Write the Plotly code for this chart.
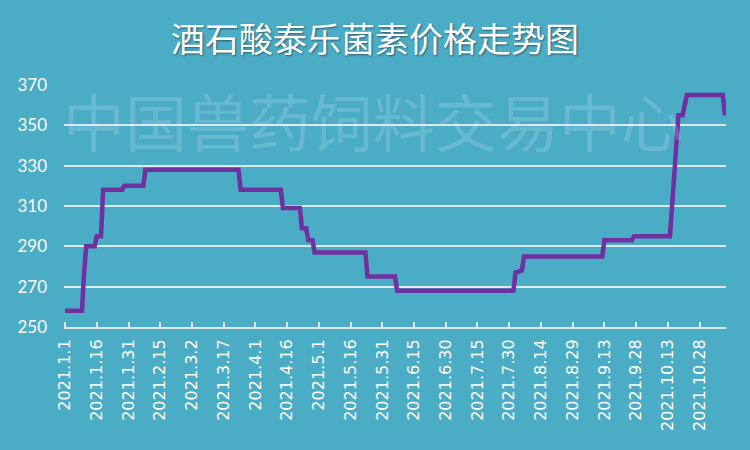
import pandas as pd
import plotly.graph_objects as go

# Price change points (date, price)
dates = [
    "2021-01-01", "2021-01-09", "2021-01-10", "2021-01-11", "2021-01-15",
    "2021-01-16", "2021-01-18", "2021-01-19", "2021-01-28", "2021-01-29",
    "2021-02-07", "2021-02-08", "2021-03-24", "2021-03-25", "2021-04-13",
    "2021-04-14", "2021-04-22", "2021-04-23", "2021-04-25", "2021-04-26",
    "2021-04-28", "2021-04-29", "2021-05-23", "2021-05-24", "2021-06-06",
    "2021-06-07", "2021-08-01", "2021-08-02", "2021-08-05", "2021-08-06",
    "2021-09-12", "2021-09-13", "2021-09-26", "2021-09-27", "2021-10-14",
    "2021-10-16", "2021-10-18", "2021-10-20", "2021-10-22", "2021-11-08",
    "2021-11-09",
]
prices = [
    258, 258, 277, 290, 290,
    295, 295, 318, 318, 320,
    320, 328, 328, 318, 318,
    309, 309, 299, 299, 293,
    293, 287, 287, 275, 275,
    268, 268, 277, 278, 285,
    285, 293, 293, 295, 295,
    324, 355, 355, 365, 365,
    355,
]

tick_labels = [
    "2021.1.1", "2021.1.16", "2021.1.31", "2021.2.15", "2021.3.2",
    "2021.3.17", "2021.4.1", "2021.4.16", "2021.5.1", "2021.5.16",
    "2021.5.31", "2021.6.15", "2021.6.30", "2021.7.15", "2021.7.30",
    "2021.8.14", "2021.8.29", "2021.9.13", "2021.9.28", "2021.10.13",
    "2021.10.28",
]
y_ticks = [250, 270, 290, 310, 330, 350, 370]

title_text = "酒石酸泰乐菌素价格走势图"
watermark_text = "中国兽药饲料交易中心"

tick_dates = pd.date_range("2021-01-01", periods=len(tick_labels), freq="15D")

bg = "#4BACC6"
grid = "#DDE9EE"

fig = go.Figure()
fig.add_trace(go.Scatter(
    x=pd.to_datetime(dates), y=prices, mode="lines",
    line=dict(color="#7030A0", width=4.5),
    hoverinfo="skip", showlegend=False,
))

fig.update_layout(
    width=750, height=450,
    paper_bgcolor=bg, plot_bgcolor=bg,
    margin=dict(l=64, r=24, t=85, b=123),
    title=dict(
        text=title_text, x=0.5, xanchor="center", y=1 - 40 / 450, yanchor="middle",
        yref="container",
        font=dict(family="Noto Sans CJK SC", size=34, color="white",
                  shadow="1px 1px 2px rgba(0,0,0,0.45)"),
    ),
    xaxis=dict(
        type="date",
        range=["2020-12-31 12:00", "2021-11-09 12:00"],
        tickvals=tick_dates, ticktext=tick_labels, tickangle=-90,
        tickfont=dict(family="DejaVu Sans", size=16, color="white"),
        showgrid=False, zeroline=False,
        showline=True, linecolor=grid, linewidth=2,
        ticks="inside", ticklen=5, tickwidth=2, tickcolor=grid,
        ticklabelstandoff=4,
    ),
    yaxis=dict(
        range=[250, 370], tickvals=y_ticks,
        tickfont=dict(family="Lato", size=17, color="white"),
        showgrid=True, gridcolor=grid, gridwidth=2,
        zeroline=False, showline=False, ticks="",
        ticklabelstandoff=16,
    ),
    annotations=[dict(
        text=watermark_text, xref="paper", yref="paper",
        x=(373 - 64) / 662, y=(327 - 120) / 242, xanchor="center", yanchor="middle",
        showarrow=False,
        font=dict(family="Noto Sans CJK SC", size=62, color="rgba(255,255,255,0.16)"),
    )],
)

fig.write_html(
    "out.html",
    config={"displayModeBar": False},
    post_script="document.body.style.margin='0';document.body.style.background='" + bg + "';",
)
